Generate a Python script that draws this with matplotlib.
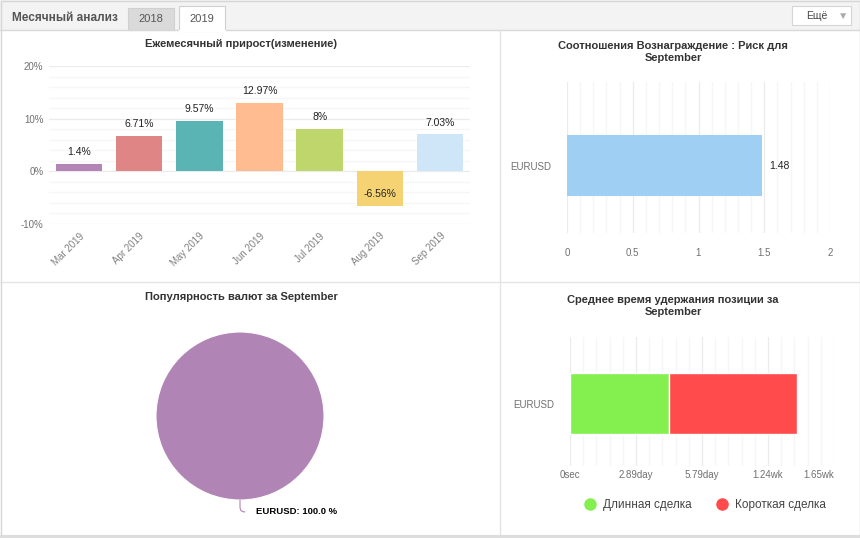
import numpy as np
import matplotlib.pyplot as plt
from matplotlib.patches import Rectangle
from matplotlib.lines import Line2D
from matplotlib.ticker import MultipleLocator

plt.rcParams['font.family'] = ['Liberation Sans', 'DejaVu Sans']

W, H = 860, 538

# monthly growth
months = ['Mar 2019', 'Apr 2019', 'May 2019', 'Jun 2019', 'Jul 2019', 'Aug 2019', 'Sep 2019']
growth = [1.4, 6.71, 9.57, 12.97, 8.0, -6.56, 7.03]
growth_labels = ['1.4%', '6.71%', '9.57%', '12.97%', '8%', '-6.56%', '7.03%']
growth_colors = ['#b385b6', '#e08585', '#5bb4b4', '#ffbc91', '#bfd66c', '#f5d372', '#cfe5f8']

# reward : risk
rr_symbols = ['EURUSD']
rr_values = [1.48]

# currency popularity
pop_symbols = ['EURUSD']
pop_share = [100.0]

# average holding time (days)
hold_symbols = ['EURUSD']
hold_long = [4.36]
hold_short = [5.58]
hold_ticks = [0, 2.893, 5.786, 8.679, 11.572]
hold_tick_labels = ['0sec', '2.89day', '5.79day', '1.24wk', '1.65wk']
legend_labels = ['Длинная сделка', 'Короткая сделка']

fig = plt.figure(figsize=(8.6, 5.38), dpi=100)


def box(x0, y0, x1, y1):
    return fig.add_axes([x0 / W, 1 - y1 / H, (x1 - x0) / W, (y1 - y0) / H])


def clean(ax):
    for s in ax.spines.values():
        s.set_visible(False)
    ax.tick_params(which='both', length=0, colors='#707070', labelsize=7)
    ax.set_axisbelow(True)


GRID_MAJ = '#ebebeb'
GRID_MIN = '#f6f6f6'

# page frame / header
bg = box(0, 0, W, H)
bg.set_xlim(0, W)
bg.set_ylim(H, 0)
bg.axis('off')
bg.add_patch(Rectangle((0, 0), W, 30, fc='#f3f3f3', ec='none'))
bg.plot([0, W], [30, 30], color='#d8d8d8', lw=1)
bg.add_patch(Rectangle((128, 8), 46, 22, fc='#dadada', ec='#d0d0d0', lw=0.8))
bg.add_patch(Rectangle((179, 6), 46, 25, fc='white', ec='#d0d0d0', lw=0.8, zorder=3))
bg.plot([179.5, 224.5], [30.5, 30.5], color='white', lw=1.5, zorder=4)
bg.text(12, 18, 'Месячный анализ', fontsize=8.5, weight='bold', color='#555555', va='center')
bg.text(151, 19, '2018', fontsize=8, color='#555555', ha='center', va='center')
bg.text(202, 19, '2019', fontsize=8, color='#555555', ha='center', va='center', zorder=5)
bg.add_patch(Rectangle((792, 6), 59, 19, fc='white', ec='#d5d5d5', lw=0.8))
bg.text(817, 16, 'Ещё', fontsize=7.5, color='#444444', ha='center', va='center')
bg.text(843, 15.5, '▼', fontsize=7.5, color='#aaaaaa', ha='center', va='center')
bg.plot([500, 500], [30, H], color='#e4e4e4', lw=1)
bg.plot([0, W], [282, 282], color='#e4e4e4', lw=1)
bg.add_patch(Rectangle((0.5, 0.5), W - 1, H - 2, fill=False, ec='#d6d6d6', lw=1))
bg.plot([0, W], [536.5, 536.5], color='#dddddd', lw=3)

title_kw = dict(fontsize=8, weight='bold', color='#333333', ha='center', va='center', linespacing=1.3)
bg.text(241, 44, 'Ежемесячный прирост(изменение)', **title_kw)
bg.text(673, 52, 'Соотношения Вознаграждение : Риск для\nSeptember', **title_kw)
bg.text(241, 297, 'Популярность валют за September', **title_kw)
bg.text(673, 306, 'Среднее время удержания позиции за\nSeptember', **title_kw)

# chart 1: monthly growth
ax1 = box(49, 66, 470, 224)
clean(ax1)
x = np.arange(len(months))
ax1.bar(x, growth, width=0.77, color=growth_colors, zorder=3)
ax1.set_xlim(-0.5, len(months) - 0.5)
ax1.set_ylim(-10, 20)
ax1.yaxis.set_major_locator(MultipleLocator(10))
ax1.yaxis.set_minor_locator(MultipleLocator(2))
ax1.grid(axis='y', which='major', color=GRID_MAJ, lw=0.9)
ax1.grid(axis='y', which='minor', color=GRID_MIN, lw=0.9)
ax1.set_yticks([-10, 0, 10, 20])
ax1.set_yticklabels([f'{v}%' for v in [-10, 0, 10, 20]])
ax1.tick_params(axis='y', pad=4)
ax1.set_xticks(x)
ax1.set_xticklabels(months, rotation=45, ha='right', rotation_mode='anchor')
ax1.tick_params(axis='x', pad=5, labelcolor='#808080')
for i, (v, lab) in enumerate(zip(growth, growth_labels)):
    ax1.annotate(lab, (i, v), xytext=(0, 8.5), textcoords='offset points',
                 ha='center', va='center', fontsize=7.5, color='#222222', zorder=5)

# chart 2: reward / risk
ax2 = box(567, 82, 830, 233)
clean(ax2)
ax2.barh(np.arange(len(rr_symbols)), rr_values, height=0.40, color='#a0cff4', zorder=3)
ax2.set_xlim(0, 2)
ax2.set_ylim(-0.447, 0.553)
ax2.xaxis.set_major_locator(MultipleLocator(0.5))
ax2.xaxis.set_minor_locator(MultipleLocator(0.1))
ax2.grid(axis='x', which='major', color=GRID_MAJ, lw=0.9)
ax2.grid(axis='x', which='minor', color=GRID_MIN, lw=0.9)
ax2.set_xticks([0, 0.5, 1, 1.5, 2])
ax2.set_xticklabels(['0', '0.5', '1', '1.5', '2'])
ax2.tick_params(axis='x', pad=11)
ax2.set_yticks(np.arange(len(rr_symbols)))
ax2.set_yticklabels(rr_symbols)
ax2.tick_params(axis='y', pad=11)
for i, v in enumerate(rr_values):
    ax2.annotate(f'{v:g}', (v, i), xytext=(5.5, 0), textcoords='offset points',
                 ha='left', va='center', fontsize=7.5, color='#222222')

# chart 3: currency popularity
ax3 = box(156, 332, 324, 500)
wedges, _ = ax3.pie(pop_share, colors=['#b084b4'], startangle=90, radius=1,
                    wedgeprops=dict(linewidth=0.8, edgecolor='white'))
ax3.set_xlim(-1, 1)
ax3.set_ylim(-1, 1)
for w, sym, share in zip(wedges, pop_symbols, pop_share):
    ang = np.deg2rad((w.theta1 + w.theta2) / 2)
    ax3.annotate(f'{sym}: {share:.1f} %', (np.cos(ang), np.sin(ang)), xytext=(11.5, -8.6),
                 textcoords='offset points', ha='left', va='center', fontsize=6.8,
                 weight='bold', color='#000000', annotation_clip=False,
                 arrowprops=dict(arrowstyle='-', color='#b084b4', lw=0.8, shrinkA=6, shrinkB=0,
                                 connectionstyle='angle,angleA=0,angleB=90,rad=5'))

# chart 4: holding time
ax4 = box(570, 337, 834, 466)
clean(ax4)
yy = np.arange(len(hold_symbols))
ax4.barh(yy, hold_long, height=0.47, color='#83f04f', edgecolor='white', lw=1, zorder=3)
ax4.barh(yy, hold_short, left=hold_long, height=0.47, color='#ff4b4b', edgecolor='white', lw=1, zorder=3)
ax4.set_xlim(hold_ticks[0], hold_ticks[-1])
ax4.set_ylim(-0.484, 0.516)
ax4.set_xticks(hold_ticks)
ax4.set_xticklabels(hold_tick_labels)
ax4.get_xticklabels()[-1].set_ha('right')
ax4.xaxis.set_minor_locator(MultipleLocator(hold_ticks[1] / 5))
ax4.grid(axis='x', which='major', color=GRID_MAJ, lw=0.9)
ax4.grid(axis='x', which='minor', color=GRID_MIN, lw=0.9)
ax4.tick_params(axis='x', pad=3)
ax4.set_yticks(yy)
ax4.set_yticklabels(hold_symbols)
ax4.tick_params(axis='y', pad=11)

handles = [Line2D([], [], marker='o', ls='', markersize=8, color=c) for c in ['#83f04f', '#ff4b4b']]
leg = fig.legend(handles, legend_labels, loc='center', bbox_to_anchor=(705 / W, 1 - 505 / H),
                 ncol=2, frameon=False, fontsize=8.5, handlelength=1.0, handletextpad=0.6,
                 columnspacing=2.0)
for t in leg.get_texts():
    t.set_color('#444444')

fig.savefig('out.png', dpi=100)
